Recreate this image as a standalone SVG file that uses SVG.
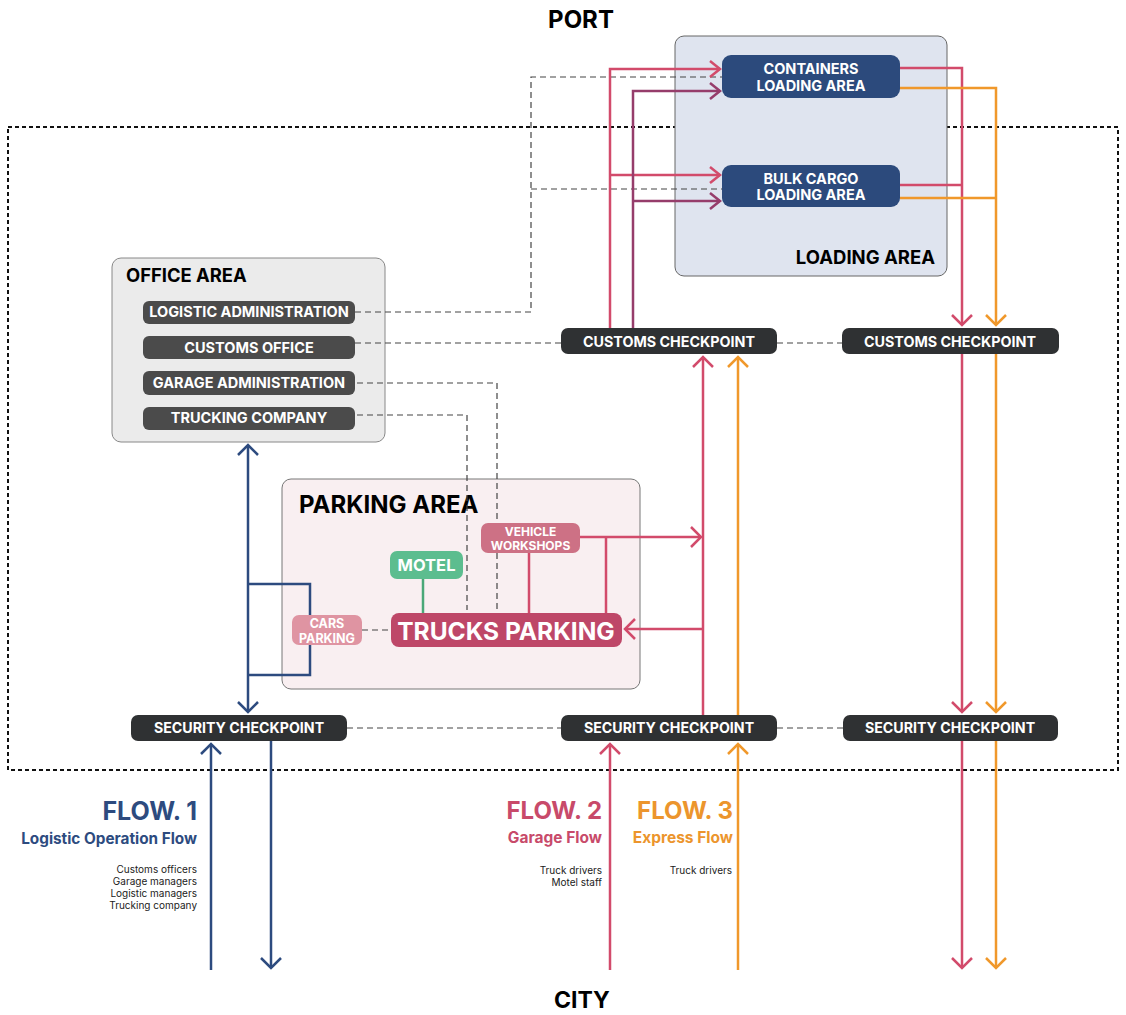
<svg xmlns="http://www.w3.org/2000/svg" width="1126" height="1015" viewBox="0 0 1126 1015">
<style>
text{font-family:Inter,"Liberation Sans",Arial,sans-serif}
.b{font-weight:700}
.w{fill:#fff;font-weight:700;text-anchor:middle}
.ck{fill:#2f3133}
.off{fill:#4b4b4b}
.ld{fill:#2c4a7c}
.dash{fill:none;stroke:#444;stroke-width:1.2;stroke-dasharray:6 4}
.fb{fill:none;stroke:#2d4b7f;stroke-width:2.5}
.fr{fill:none;stroke:#d24b6b;stroke-width:2.5}
.fo{fill:none;stroke:#f0982b;stroke-width:2.5}
.fp{fill:none;stroke:#963d6b;stroke-width:2.5}
.sm{font-size:10px;fill:#222;text-anchor:end}
</style>
<defs>
<marker id="ab" viewBox="-14 -14 28 28" markerWidth="28" markerHeight="28" markerUnits="userSpaceOnUse" orient="auto" overflow="visible"><path d="M-10,-10 L0,0 L-10,10" fill="none" stroke="#2d4b7f" stroke-width="2.5"/></marker>
<marker id="ar" viewBox="-14 -14 28 28" markerWidth="28" markerHeight="28" markerUnits="userSpaceOnUse" orient="auto" overflow="visible"><path d="M-10,-10 L0,0 L-10,10" fill="none" stroke="#d24b6b" stroke-width="2.5"/></marker>
<marker id="ao" viewBox="-14 -14 28 28" markerWidth="28" markerHeight="28" markerUnits="userSpaceOnUse" orient="auto" overflow="visible"><path d="M-10,-10 L0,0 L-10,10" fill="none" stroke="#f0982b" stroke-width="2.5"/></marker>
<marker id="ars" viewBox="-14 -14 28 28" markerWidth="28" markerHeight="28" markerUnits="userSpaceOnUse" orient="auto" overflow="visible"><path d="M-10,-8 L0,0 L-10,8" fill="none" stroke="#d24b6b" stroke-width="2.5"/></marker>
<marker id="aps" viewBox="-14 -14 28 28" markerWidth="28" markerHeight="28" markerUnits="userSpaceOnUse" orient="auto" overflow="visible"><path d="M-10,-8 L0,0 L-10,8" fill="none" stroke="#963d6b" stroke-width="2.5"/></marker>
</defs>
<rect width="1126" height="1015" fill="#fff"/>

<!-- titles -->
<text x="581" y="28" class="b" font-size="24" text-anchor="middle">PORT</text>
<text x="582" y="1008" class="b" font-size="23" text-anchor="middle">CITY</text>

<!-- port boundary -->
<rect id="boundary" x="8" y="127" width="1110" height="643" fill="none" stroke="#111" stroke-width="2" stroke-dasharray="4 3"/>

<!-- areas -->
<g id="loading-area">
<rect x="675" y="36" width="272" height="240" rx="9" fill="#dfe4ef" stroke="#666" stroke-width="1"/>
<text x="935" y="264" class="b" font-size="18.5" text-anchor="end">LOADING AREA</text>
</g>
<g id="office-area">
<rect x="112" y="258" width="273" height="184" rx="9" fill="#ebebeb" stroke="#888" stroke-width="1"/>
<text x="126" y="282" class="b" font-size="18.4">OFFICE AREA</text>
</g>
<g id="parking-area">
<rect x="282" y="479" width="358" height="210" rx="9" fill="#f9eff1" stroke="#777" stroke-width="1"/>
<text x="299" y="513" class="b" font-size="24">PARKING AREA</text>
</g>

<!-- connectors -->
<g id="connectors">
<!-- dashed relations -->
<path class="dash" d="M355,312 H531 V77 H722"/>
<path class="dash" d="M531,189 H722"/>
<path class="dash" d="M355,343 H561"/>
<path class="dash" d="M777,343 H842"/>
<path class="dash" d="M357,383 H497 V610"/>
<path class="dash" d="M357,415 H467 V610"/>
<path class="dash" d="M362,630 H391"/>
<path class="dash" d="M347,728 H561"/>
<path class="dash" d="M777,728 H843"/>

<!-- flow 1 -->
<path class="fb" d="M248,600 V445" marker-end="url(#ab)"/>
<path class="fb" d="M248,600 V712" marker-end="url(#ab)"/>
<path class="fb" d="M248,584 H310 V675 H248"/>
<path class="fb" d="M211,970 V744" marker-end="url(#ab)"/>
<path class="fb" d="M271,741 V968" marker-end="url(#ab)"/>

<!-- flow 2 -->
<path class="fr" d="M610,970 V744" marker-end="url(#ar)"/>
<path class="fr" d="M703,715 V357" marker-end="url(#ar)"/>
<path class="fr" d="M703,629 H625" marker-end="url(#ar)"/>
<path class="fr" d="M580,537 H701" marker-end="url(#ar)"/>
<path class="fr" d="M529,553 V613"/>
<path class="fr" d="M606,537 V613"/>
<path class="fr" d="M610,328 V69 H720" marker-end="url(#ars)"/>
<path class="fr" d="M610,175 H720" marker-end="url(#ars)"/>
<path class="fp" d="M633,328 V91 H720" marker-end="url(#aps)"/>
<path class="fp" d="M633,201 H720" marker-end="url(#aps)"/>
<path class="fr" d="M900,68 H962 V325" marker-end="url(#ar)"/>
<path class="fr" d="M900,185 H962"/>
<path class="fr" d="M962,354 V712" marker-end="url(#ar)"/>
<path class="fr" d="M962,741 V968" marker-end="url(#ar)"/>

<!-- flow 3 -->
<path class="fo" d="M738,970 V744" marker-end="url(#ao)"/>
<path class="fo" d="M738,715 V357" marker-end="url(#ao)"/>
<path class="fo" d="M900,88 H996 V325" marker-end="url(#ao)"/>
<path class="fo" d="M900,198 H996"/>
<path class="fo" d="M996,354 V712" marker-end="url(#ao)"/>
<path class="fo" d="M996,741 V968" marker-end="url(#ao)"/>

<!-- motel link -->
<path d="M423,579 V613" fill="none" stroke="#4aa878" stroke-width="2.5"/>
</g>

<!-- nodes -->
<g id="containers-loading">
<rect class="ld" x="722" y="55" width="178" height="43" rx="9"/>
<text class="w" x="811" y="74" font-size="14.5">CONTAINERS</text>
<text class="w" x="811" y="91" font-size="14.5">LOADING AREA</text>
</g>
<g id="bulk-cargo-loading">
<rect class="ld" x="722" y="165" width="178" height="42" rx="9"/>
<text class="w" x="811" y="184" font-size="14.5">BULK CARGO</text>
<text class="w" x="811" y="200" font-size="14.5">LOADING AREA</text>
</g>
<g id="customs-checkpoint-1">
<rect class="ck" x="561" y="328" width="216" height="26" rx="7"/>
<text class="w" x="669" y="347" font-size="14.3">CUSTOMS CHECKPOINT</text>
</g>
<g id="customs-checkpoint-2">
<rect class="ck" x="842" y="328" width="217" height="26" rx="7"/>
<text class="w" x="950" y="347" font-size="14.3">CUSTOMS CHECKPOINT</text>
</g>
<g id="security-checkpoint-1">
<rect class="ck" x="131" y="715" width="216" height="26" rx="7"/>
<text class="w" x="239" y="733" font-size="14.2">SECURITY CHECKPOINT</text>
</g>
<g id="security-checkpoint-2">
<rect class="ck" x="561" y="715" width="216" height="26" rx="7"/>
<text class="w" x="669" y="733" font-size="14.2">SECURITY CHECKPOINT</text>
</g>
<g id="security-checkpoint-3">
<rect class="ck" x="843" y="715" width="215" height="26" rx="7"/>
<text class="w" x="950" y="733" font-size="14.2">SECURITY CHECKPOINT</text>
</g>
<g id="logistic-administration">
<rect class="off" x="143" y="301" width="212" height="23" rx="6"/>
<text class="w" x="249" y="317" font-size="14.5">LOGISTIC ADMINISTRATION</text>
</g>
<g id="customs-office">
<rect class="off" x="143" y="336" width="212" height="23" rx="6"/>
<text class="w" x="249" y="353" font-size="14.5">CUSTOMS OFFICE</text>
</g>
<g id="garage-administration">
<rect class="off" x="143" y="371" width="212" height="24" rx="6"/>
<text class="w" x="249" y="388" font-size="14.5">GARAGE ADMINISTRATION</text>
</g>
<g id="trucking-company">
<rect class="off" x="143" y="407" width="212" height="23" rx="6"/>
<text class="w" x="249" y="423" font-size="14.5">TRUCKING COMPANY</text>
</g>
<g id="trucks-parking">
<rect x="391" y="613" width="231" height="34" rx="8" fill="#be4768"/>
<text class="w" x="506" y="640" font-size="24.5">TRUCKS PARKING</text>
</g>
<g id="motel">
<rect x="390" y="551" width="73" height="28" rx="7" fill="#5cbd8f"/>
<text class="w" x="426.5" y="571" font-size="16.5">MOTEL</text>
</g>
<g id="vehicle-workshops">
<rect x="481" y="523" width="99" height="30" rx="7" fill="#cd7185"/>
<text class="w" x="530.5" y="536" font-size="12">VEHICLE</text>
<text class="w" x="530.5" y="550" font-size="12">WORKSHOPS</text>
</g>
<g id="cars-parking">
<rect x="292" y="615" width="70" height="30" rx="7" fill="#df94a2"/>
<text class="w" x="327" y="628" font-size="12.5">CARS</text>
<text class="w" x="327" y="643" font-size="12.5">PARKING</text>
</g>

<!-- flow legends -->
<g id="flow-1-label">
<text x="197" y="820" class="b" font-size="25" fill="#2d4b7f" text-anchor="end">FLOW. 1</text>
<text x="197" y="844" class="b" font-size="15.3" fill="#2d4b7f" text-anchor="end">Logistic Operation Flow</text>
<text class="sm" x="197" y="873">Customs officers</text>
<text class="sm" x="197" y="885">Garage managers</text>
<text class="sm" x="197" y="897">Logistic managers</text>
<text class="sm" x="197" y="909">Trucking company</text>
</g>
<g id="flow-2-label">
<text x="602" y="819" class="b" font-size="24" fill="#c84a6a" text-anchor="end">FLOW. 2</text>
<text x="602" y="843" class="b" font-size="15.5" fill="#c84a6a" text-anchor="end">Garage Flow</text>
<text class="sm" x="602" y="874">Truck drivers</text>
<text class="sm" x="602" y="886">Motel staff</text>
</g>
<g id="flow-3-label">
<text x="733" y="819" class="b" font-size="24" fill="#ec952d" text-anchor="end">FLOW. 3</text>
<text x="733" y="843" class="b" font-size="15.5" fill="#ec952d" text-anchor="end">Express Flow</text>
<text class="sm" x="732" y="874">Truck drivers</text>
</g>
</svg>
